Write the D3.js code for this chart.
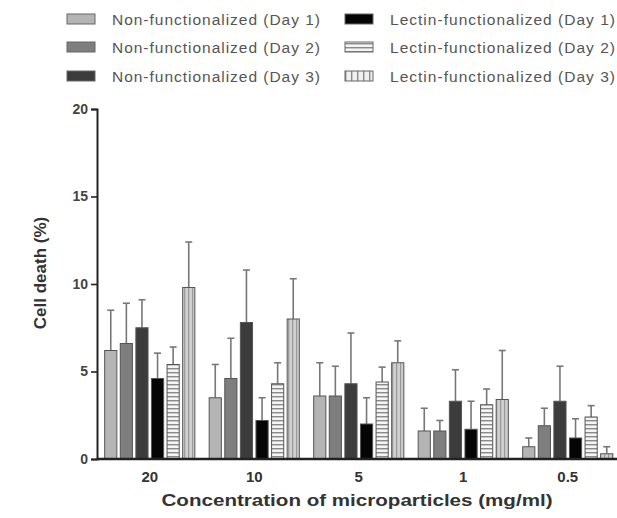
<!DOCTYPE html>
<html>
<head>
<meta charset="utf-8">
<script src="https://cdn.jsdelivr.net/npm/d3@7"></script>
<style>
  body { margin: 0; background: #fff; }
  svg { display: block; font-family: Arial, "Liberation Sans", sans-serif; }
</style>
</head>
<body>
<svg id="chart" width="617" height="518"></svg>
<script>
// concentrations on the x axis
var categories = ["20", "10", "5", "1", "0.5"];
var seriesNames = [
    "Non-functionalized (Day 1)", "Non-functionalized (Day 2)", "Non-functionalized (Day 3)",
    "Lectin-functionalized (Day 1)", "Lectin-functionalized (Day 2)", "Lectin-functionalized (Day 3)"
];
var nonDay1 = [6.2, 3.5, 3.6, 1.6, 0.7];
var nonDay2 = [6.6, 4.6, 3.6, 1.6, 1.9];
var nonDay3 = [7.5, 7.8, 4.3, 3.3, 3.3];
var lecDay1 = [4.6, 2.2, 2.0, 1.7, 1.2];
var lecDay2 = [5.4, 4.3, 4.4, 3.1, 2.4];
var lecDay3 = [9.8, 8.0, 5.5, 3.4, 0.3];
var nonDay1Err = [2.3, 1.9, 1.9, 1.3, 0.5];
var nonDay2Err = [2.3, 2.3, 1.7, 0.6, 1.0];
var nonDay3Err = [1.6, 3.0, 2.9, 1.8, 2.0];
var lecDay1Err = [1.45, 1.3, 1.5, 1.6, 1.1];
var lecDay2Err = [1.0, 1.2, 0.85, 0.9, 0.65];
var lecDay3Err = [2.6, 2.3, 1.25, 2.8, 0.4];
var yTicks = [0, 5, 10, 15, 20];

var values = [nonDay1, nonDay2, nonDay3, lecDay1, lecDay2, lecDay3];
var errors = [nonDay1Err, nonDay2Err, nonDay3Err, lecDay1Err, lecDay2Err, lecDay3Err];
var fills = ["#b4b4b4", "#7e7e7e", "#3c3c3c", "#050505", "url(#hstripe)", "url(#vstripe)"];
var legendFills = ["#b4b4b4", "#7e7e7e", "#3c3c3c", "#050505", "url(#hstripe)", "url(#vstripeLeg)"];

var svg = d3.select("#chart");

// patterns for the lectin day 2 / day 3 bars
var defs = svg.append("defs");
var hp = defs.append("pattern").attr("id", "hstripe").attr("patternUnits", "userSpaceOnUse")
    .attr("width", 6).attr("height", 4);
hp.append("rect").attr("width", 6).attr("height", 4).attr("fill", "#f4f4f4");
hp.append("rect").attr("y", 0).attr("width", 6).attr("height", 1.4).attr("fill", "#8a8a8a");

var vp = defs.append("pattern").attr("id", "vstripe").attr("patternUnits", "userSpaceOnUse")
    .attr("width", 4).attr("height", 6);
vp.append("rect").attr("width", 4).attr("height", 6).attr("fill", "#cfcfcf");
vp.append("rect").attr("x", 0).attr("width", 1.2).attr("height", 6).attr("fill", "#9a9a9a");

var vl = defs.append("pattern").attr("id", "vstripeLeg").attr("patternUnits", "userSpaceOnUse")
    .attr("width", 6).attr("height", 6);
vl.append("rect").attr("width", 6).attr("height", 6).attr("fill", "#f0f0f0");
vl.append("rect").attr("x", 0).attr("width", 1.4).attr("height", 6).attr("fill", "#8a8a8a");

var x0 = d3.scaleBand()
    .domain(categories)
    .range([97.5, 620])
    .paddingInner(0);

var x1 = d3.scaleBand()
    .domain(d3.range(6))
    .range([0, x0.bandwidth()])
    .paddingInner(0.22)
    .paddingOuter(0.46);

var y = d3.scaleLinear()
    .domain([0, 20])
    .range([459, 109]);

var rows = [];
categories.forEach(function(c, ci) {
    for (var s = 0; s < 6; ++s) {
        rows.push({cat: c, s: s, v: values[s][ci], e: errors[s][ci]});
    }
});

// error bars (upper only) behind the bars
var err = svg.append("g").attr("class", "errors");
err.selectAll("line.stem")
    .data(rows)
    .enter()
    .append("line")
    .attr("class", "stem")
    .attr("x1", function(d) { return x0(d.cat) + x1(d.s) + x1.bandwidth() / 2; })
    .attr("x2", function(d) { return x0(d.cat) + x1(d.s) + x1.bandwidth() / 2; })
    .attr("y1", function(d) { return y(d.v); })
    .attr("y2", function(d) { return y(d.v + d.e); })
    .attr("stroke", "#777")
    .attr("stroke-width", 1.6);

err.selectAll("line.cap")
    .data(rows)
    .enter()
    .append("line")
    .attr("class", "cap")
    .attr("x1", function(d) { return x0(d.cat) + x1(d.s) + x1.bandwidth() / 2 - 3.5; })
    .attr("x2", function(d) { return x0(d.cat) + x1(d.s) + x1.bandwidth() / 2 + 3.5; })
    .attr("y1", function(d) { return y(d.v + d.e); })
    .attr("y2", function(d) { return y(d.v + d.e); })
    .attr("stroke", "#777")
    .attr("stroke-width", 1.6);

svg.append("g").selectAll("rect")
    .data(rows)
    .enter()
    .append("rect")
    .attr("x", function(d) { return x0(d.cat) + x1(d.s); })
    .attr("y", function(d) { return y(d.v); })
    .attr("width", x1.bandwidth())
    .attr("height", function(d) { return y(0) - y(d.v); })
    .attr("fill", function(d) { return fills[d.s]; })
    .attr("stroke", "#555")
    .attr("stroke-width", 1);

// axes
var yAxis = svg.append("g")
    .attr("transform", "translate(97,0)")
    .call(d3.axisLeft(y).tickValues(yTicks).tickSize(6).tickPadding(3));
yAxis.select(".domain").attr("stroke", "#222").attr("stroke-width", 2);
yAxis.selectAll(".tick line").attr("stroke", "#222").attr("stroke-width", 1.6);
yAxis.selectAll("text")
    .attr("fill", "#444")
    .style("font-size", "14px")
    .style("font-weight", "bold");

var xAxis = svg.append("g")
    .attr("transform", "translate(0,459)")
    .call(d3.axisBottom(x0).tickSize(0).tickPadding(12));
xAxis.select(".domain").attr("d", "M97,0H617").attr("stroke", "#222").attr("stroke-width", 2.5);
xAxis.selectAll("text")
    .attr("fill", "#333")
    .style("font-size", "15px")
    .style("font-weight", "bold");

svg.append("text")
    .attr("transform", "translate(46,273) rotate(-90)")
    .attr("text-anchor", "middle")
    .attr("fill", "#333")
    .style("font-size", "17px")
    .style("font-weight", "bold")
    .text("Cell death (%)");

svg.append("text")
    .attr("x", 357)
    .attr("y", 506)
    .attr("text-anchor", "middle")
    .attr("fill", "#333")
    .attr("textLength", 391)
    .attr("lengthAdjust", "spacingAndGlyphs")
    .style("font-size", "17px")
    .style("font-weight", "bold")
    .text("Concentration of microparticles (mg/ml)");

// legend: two columns of three
var legX = [67, 345];
var legTextX = [112, 390];
var legY = [19, 47, 76];
var legend = svg.append("g").selectAll("g")
    .data(seriesNames)
    .enter()
    .append("g")
    .attr("transform", function(d, i) {
        return "translate(" + legX[Math.floor(i / 3)] + "," + legY[i % 3] + ")";
    });
legend.append("rect")
    .attr("x", 0)
    .attr("y", -5)
    .attr("width", 28)
    .attr("height", 10)
    .attr("fill", function(d, i) { return legendFills[i]; })
    .attr("stroke", "#666")
    .attr("stroke-width", 1);
legend.append("text")
    .attr("x", function(d, i) { return legTextX[Math.floor(i / 3)] - legX[Math.floor(i / 3)]; })
    .attr("y", 5.5)
    .attr("fill", "#555")
    .attr("textLength", function(d, i) { return i < 3 ? 208 : 225; })
    .attr("lengthAdjust", "spacing")
    .style("font-size", "15.5px")
    .text(function(d) { return d; });
</script>
</body>
</html>
